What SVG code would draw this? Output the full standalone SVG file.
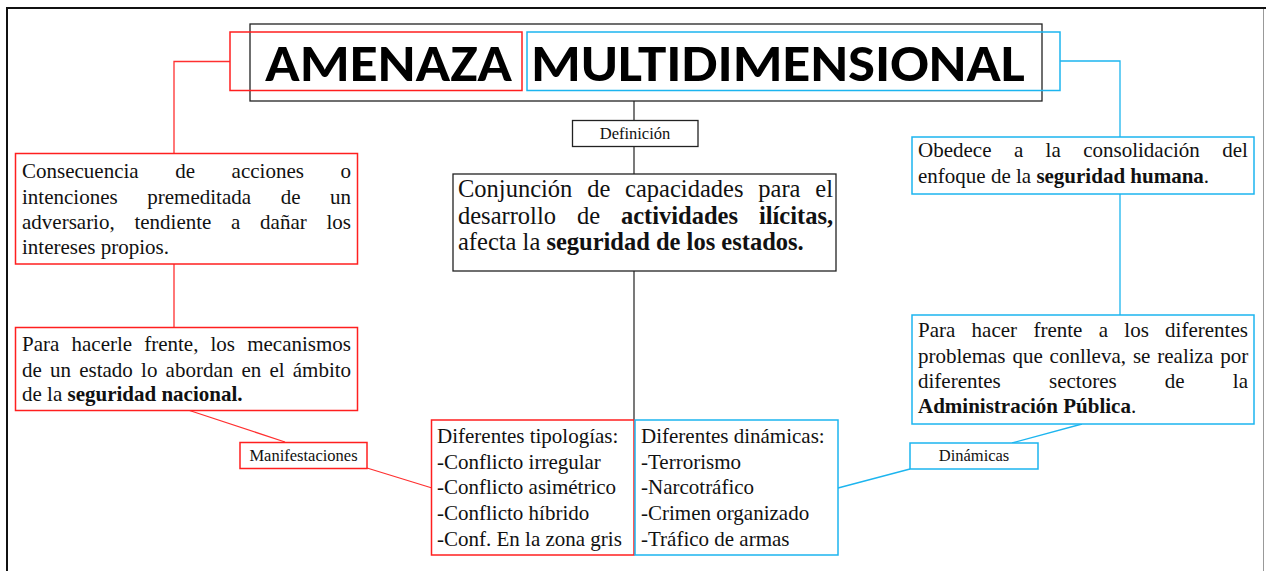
<svg xmlns="http://www.w3.org/2000/svg" width="1266" height="571" viewBox="0 0 1266 571">
<style>
.t{font-family:"Liberation Serif","Times New Roman",serif;font-size:21px;fill:#111}
.c{font-size:24.5px}
.s{font-size:16.5px;text-anchor:middle}
.b{font-weight:bold}
.h{font-family:Carlito,Calibri,Lato,"Open Sans",sans-serif;font-weight:bold;font-size:53px;fill:#000}
.red{fill:#fff;stroke:#ff1f1f;stroke-width:1.5}
.blue{fill:#fff;stroke:#1cb5ef;stroke-width:1.5}
.blk{fill:#fff;stroke:#222;stroke-width:1.3}
.lr{fill:none;stroke:#ff3030;stroke-width:1.3}
.lb{fill:none;stroke:#1cb5ef;stroke-width:1.3}
.lk{fill:none;stroke:#333;stroke-width:1.3}
</style>
<rect width="1266" height="571" fill="#fff"/>
<g id="frame">
<line x1="6" y1="8" x2="1266" y2="8" stroke="#111" stroke-width="2"/>
<line x1="7" y1="7" x2="7" y2="571" stroke="#111" stroke-width="2"/>
<line x1="1263.5" y1="9" x2="1263.5" y2="571" stroke="#999" stroke-width="1"/>
</g>
<g id="connectors">
<path class="lk" d="M634,101V120M634,146V174M634,271V420"/>
<path class="lr" d="M230,61.5H174V153M174,264V327M188,410L285,442M367,468L432,488"/>
<path class="lb" d="M1060,61H1120V137M1120,194V315M1082,424L1012,443M910,469L838,488"/>
</g>
<g id="title">
<rect class="blk" x="250" y="24" width="792" height="77"/>
<rect x="230" y="32" width="292" height="58.5" fill="none" stroke="#ff1f1f" stroke-width="1.5"/>
<rect x="527" y="32" width="533" height="58.5" fill="none" stroke="#1cb5ef" stroke-width="1.5"/>
<text class="h" x="265" y="81" textLength="247" lengthAdjust="spacingAndGlyphs">AMENAZA</text>
<text class="h" x="531" y="81" textLength="494" lengthAdjust="spacingAndGlyphs">MULTIDIMENSIONAL</text>
</g>
<g id="definicion">
<rect class="blk" x="572.5" y="120.5" width="125.5" height="26"/>
<text class="t s" x="635" y="138.5">Definición</text>
</g>
<g id="conjuncion">
<rect class="blk" x="453" y="174" width="383" height="97"/>
<text class="t c" y="197"><tspan x="458">Conjunción</tspan><tspan x="587.2">de</tspan><tspan x="625.1">capacidades</tspan><tspan x="758.3">para</tspan><tspan x="815.3">el</tspan></text>
<text class="t c" y="223.5"><tspan x="458">desarrollo</tspan><tspan x="576.9">de</tspan><tspan x="620.9" class="b">actividades</tspan><tspan x="758.9" class="b">ilícitas,</tspan></text>
<text class="t c" x="458" y="250">afecta la <tspan class="b">seguridad de los estados.</tspan></text>
</g>
<g id="consecuencia">
<rect class="red" x="15.5" y="153.5" width="342" height="110.5"/>
<text class="t" y="178"><tspan x="22">Consecuencia</tspan><tspan x="175.2">de</tspan><tspan x="231.6">acciones</tspan><tspan x="340.5">o</tspan></text>
<text class="t" y="203.5"><tspan x="22">intenciones</tspan><tspan x="147.3">premeditada</tspan><tspan x="280.7">de</tspan><tspan x="330.1">un</tspan></text>
<text class="t" y="228.5"><tspan x="22">adversario,</tspan><tspan x="134.4">tendiente</tspan><tspan x="231.1">a</tspan><tspan x="260.1">dañar</tspan><tspan x="326.4">los</tspan></text>
<text class="t" x="22" y="254">intereses propios.</text>
</g>
<g id="para-hacerle">
<rect class="red" x="15.5" y="327.5" width="342" height="83"/>
<text class="t" y="351"><tspan x="22">Para</tspan><tspan x="71.5">hacerle</tspan><tspan x="144.2">frente,</tspan><tspan x="210.5">los</tspan><tspan x="247.2">mecanismos</tspan></text>
<text class="t" y="376.5"><tspan x="22">de</tspan><tspan x="50">un</tspan><tspan x="79.2">estado</tspan><tspan x="141.1">lo</tspan><tspan x="165.6">abordan</tspan><tspan x="241.4">en</tspan><tspan x="269.4">el</tspan><tspan x="292.8">ámbito</tspan></text>
<text class="t" x="22" y="401">de la <tspan class="b">seguridad nacional.</tspan></text>
</g>
<g id="manifestaciones">
<rect class="red" x="240" y="442.5" width="127" height="26"/>
<text class="t s" x="303.5" y="461">Manifestaciones</text>
</g>
<g id="tipologias">
<rect class="red" x="431.5" y="420" width="202.5" height="135"/>
<text class="t" x="437" y="443">Diferentes tipologías:</text>
<text class="t" x="437" y="468.5">-Conflicto irregular</text>
<text class="t" x="437" y="494">-Conflicto asimétrico</text>
<text class="t" x="437" y="519.5">-Conflicto híbrido</text>
<text class="t" x="437" y="545.5">-Conf. En la zona gris</text>
</g>
<g id="dinamicas-lista">
<rect class="blue" x="635" y="420" width="203" height="135"/>
<text class="t" x="641" y="443">Diferentes dinámicas:</text>
<text class="t" x="641" y="468.5">-Terrorismo</text>
<text class="t" x="641" y="494">-Narcotráfico</text>
<text class="t" x="641" y="519.5">-Crimen organizado</text>
<text class="t" x="641" y="545.5">-Tráfico de armas</text>
</g>
<g id="obedece">
<rect class="blue" x="912" y="137" width="342" height="57"/>
<text class="t" y="157"><tspan x="918">Obedece</tspan><tspan x="1013.9">a</tspan><tspan x="1045.6">la</tspan><tspan x="1083.2">consolidación</tspan><tspan x="1222.3">del</tspan></text>
<text class="t" x="918" y="183">enfoque de la <tspan class="b">seguridad humana</tspan>.</text>
</g>
<g id="para-hacer">
<rect class="blue" x="912" y="315" width="342" height="109"/>
<text class="t" y="337"><tspan x="918">Para</tspan><tspan x="971.6">hacer</tspan><tspan x="1033.4">frente</tspan><tspan x="1098.7">a</tspan><tspan x="1124.3">los</tspan><tspan x="1165.1">diferentes</tspan></text>
<text class="t" y="362.5"><tspan x="918">problemas</tspan><tspan x="1012.4">que</tspan><tspan x="1049.6">conlleva,</tspan><tspan x="1132.9">se</tspan><tspan x="1157.3">realiza</tspan><tspan x="1220.2">por</tspan></text>
<text class="t" y="388"><tspan x="918">diferentes</tspan><tspan x="1049">sectores</tspan><tspan x="1164.8">de</tspan><tspan x="1232.8">la</tspan></text>
<text class="t" x="918" y="413"><tspan class="b">Administración Pública</tspan>.</text>
</g>
<g id="dinamicas">
<rect class="blue" x="910" y="443" width="128" height="26"/>
<text class="t s" x="974" y="461">Dinámicas</text>
</g>
</svg>
